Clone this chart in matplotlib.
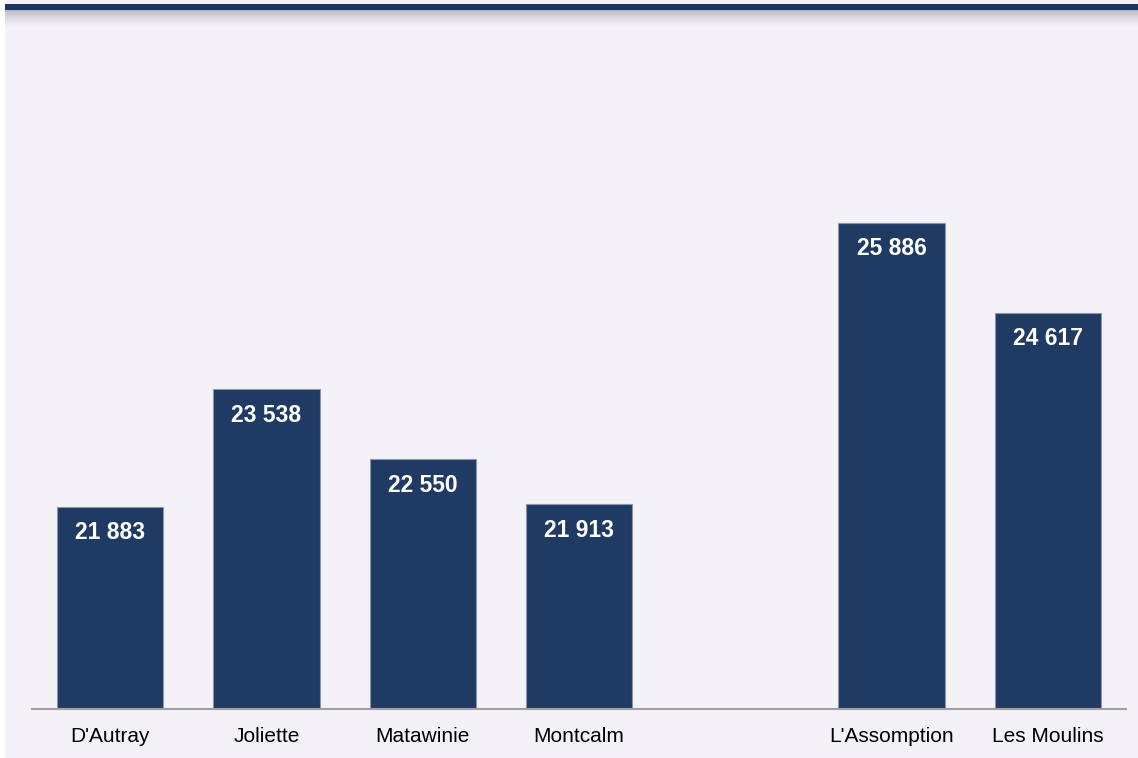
import matplotlib
matplotlib.use("Agg")
import matplotlib.pyplot as plt
import numpy as np
from matplotlib.patches import Rectangle

categories = ["D'Autray", "Joliette", "Matawinie", "Montcalm", "", "L'Assomption", "Les Moulins"]
values = [21883, 23538, 22550, 21913, None, 25886, 24617]
labels = ["21 883", "23 538", "22 550", "21 913", "", "25 886", "24 617"]

plt.rcParams['font.family'] = ['Liberation Sans', 'DejaVu Sans']

bg = "#F4F2F7"
bar_color = "#1F3B64"

fig = plt.figure(figsize=(11.38, 7.58), dpi=100)
fig.patch.set_facecolor(bg)
# white left margin
fig.patches.append(Rectangle((0, 0), 5/1138, 1, transform=fig.transFigure,
                             facecolor="white", edgecolor="none", zorder=-10))
# shadow gradient under top band
grad = np.linspace(0, 1, 64).reshape(-1, 1) ** 1.5
sax = fig.add_axes([5/1138, (758-28)/758, 1 - 5/1138, 18/758], zorder=1)
sax.imshow(grad, aspect="auto", cmap=matplotlib.colors.LinearSegmentedColormap.from_list(
    "sh", [bg, "#BAB8BE"]), origin="lower", extent=[0, 1, 0, 1])
sax.axis("off")
# top band
fig.patches.append(Rectangle((5/1138, (758-10)/758), 1 - 5/1138, 6/758, transform=fig.transFigure,
                             facecolor="#1B3660", edgecolor="none", zorder=5))

ax = fig.add_axes([32/1138, 49/758, (1126-32)/1138, (709-71)/758], zorder=2)
ax.set_facecolor("none")
x = np.arange(len(categories))
for i, v in enumerate(values):
    if v is None:
        continue
    ax.bar(x[i], v, width=0.68, color=bar_color, edgecolor="#8C96A6", linewidth=0.8)
    ax.annotate(labels[i], (x[i], v), xytext=(0, -26), textcoords="offset pixels",
                ha="center", va="center", color="white", fontsize=16.5, fontweight="bold")

ax.set_ylim(19028, 28028)
ax.set_xlim(-0.5, len(categories) - 0.5)
ax.set_xticks(x)
ax.set_xticklabels(categories, fontsize=15)
ax.tick_params(axis="x", length=0, pad=13)
ax.set_yticks([])
for s in ["top", "right", "left"]:
    ax.spines[s].set_visible(False)
ax.spines["bottom"].set_color("#A0A0A0")
ax.spines["bottom"].set_linewidth(1.5)

fig.savefig("out.png", dpi=100, facecolor=fig.get_facecolor())
